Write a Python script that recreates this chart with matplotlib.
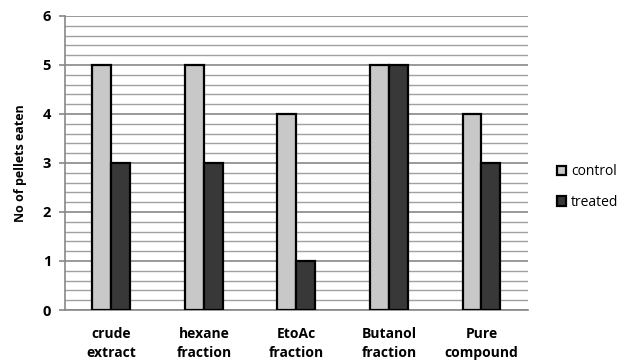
import matplotlib
matplotlib.use("Agg")
import matplotlib.pyplot as plt
from matplotlib.patches import Patch
import numpy as np

categories = ["crude\nextract", "hexane\nfraction", "EtoAc\nfraction", "Butanol\nfraction", "Pure\ncompound"]
control = [5, 5, 4, 5, 4]
treated = [3, 3, 1, 5, 3]
series_names = ["control", "treated"]

plt.rcParams["font.family"] = ["Open Sans", "DejaVu Sans"]

fig = plt.figure(figsize=(6.22, 3.63), dpi=100)
ax = fig.add_axes([0.1045, 0.146, 0.744, 0.81])

x = np.arange(len(categories))
w = 0.205
light = "#c8c8c8"
dark = "#383838"
ax.bar(x - w / 2, control, w, color=light, edgecolor="black", linewidth=1.6, zorder=3)
ax.bar(x + w / 2, treated, w, color=dark, edgecolor="black", linewidth=1.6, zorder=3)

ax.set_xlim(-0.5, len(categories) - 0.5)
ax.set_ylim(0, 6)
ax.set_yticks(range(0, 7))
ax.set_yticks(np.arange(0, 6.01, 0.2), minor=True)
ax.grid(axis="y", which="minor", color="#a0a0a0", linewidth=1.0, zorder=0)
ax.grid(axis="y", which="major", color="#888888", linewidth=1.2, zorder=1)
ax.tick_params(axis="y", which="minor", length=0)
ax.tick_params(axis="y", which="major", length=4, color="#888888", width=1.2,
               labelsize=10.5, pad=6)
for lab in ax.get_yticklabels():
    lab.set_fontweight("bold")

ax.set_xticks(x)
ax.set_xticklabels(categories, fontsize=10, fontweight="bold", linespacing=1.45)
ax.tick_params(axis="x", length=0, pad=12)

for s in ["top", "right"]:
    ax.spines[s].set_visible(False)
ax.spines["left"].set_color("#888888")
ax.spines["left"].set_linewidth(1.2)
ax.spines["bottom"].set_color("#888888")
ax.spines["bottom"].set_linewidth(1.2)

ax.set_ylabel("No of pellets eaten", fontsize=9, fontweight="bold", labelpad=11)

handles = [Patch(facecolor=light, edgecolor="black", linewidth=1.6),
           Patch(facecolor=dark, edgecolor="black", linewidth=1.6)]
fig.legend(handles, series_names, loc="center left", bbox_to_anchor=(0.895, 0.485),
           frameon=False, fontsize=10, handlelength=0.7, handleheight=0.7,
           handletextpad=0.35, labelspacing=1.1, borderaxespad=0, borderpad=0)

fig.savefig("out.png", dpi=100, facecolor="white")
